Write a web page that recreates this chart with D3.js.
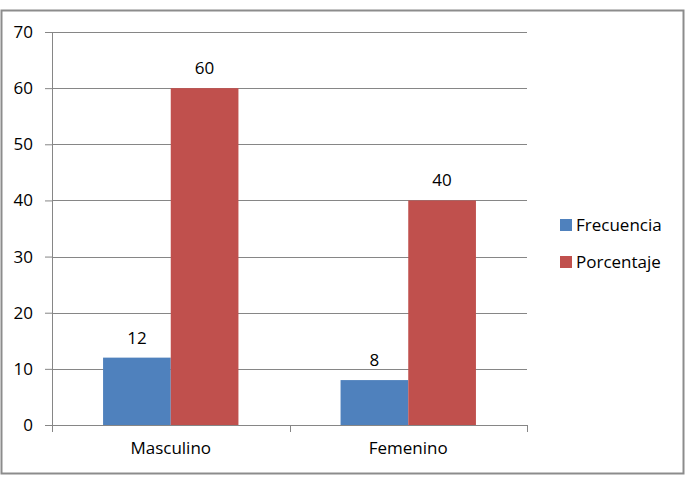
<!DOCTYPE html>
<html>
<head>
<meta charset="utf-8">
<script src="https://cdn.jsdelivr.net/npm/d3@7"></script>
<style>
body{margin:0;background:#fff;}
svg text{font-family:"Open Sans", sans-serif;fill:#000;}
</style>
</head>
<body>
<svg id="chart" width="688" height="480"></svg>
<script>
// data
const categories = ['Masculino', 'Femenino'];
const seriesNames = ['Frecuencia', 'Porcentaje'];
const frecuencia = [12, 8];
const porcentaje = [60, 40];
const yTicks = [0, 10, 20, 30, 40, 50, 60, 70];
const colors = ['#4F81BD', '#C0504D'];

const svg = d3.select('#chart');
const margin = {top: 32, left: 52, right: 161, bottom: 55};
const width = 688 - margin.left - margin.right;
const height = 480 - margin.top - margin.bottom;
const fs = '17px';

// outer frame
svg.append('rect')
	.attr('x', 1.5).attr('y', 10.5)
	.attr('width', 682).attr('height', 463)
	.attr('fill', '#fff')
	.attr('stroke', '#8c8c8c')
	.attr('stroke-width', 2);

const g = svg.append('g').attr('transform', 'translate(' + margin.left + ',' + margin.top + ')');

const x0 = d3.scaleBand().domain(categories).range([0, width]);
const x1 = d3.scaleBand().domain(seriesNames).range([0, x0.bandwidth() * 0.57]);
const y = d3.scaleLinear().domain([0, 70]).range([height, 0]);

// gridlines
g.append('g').selectAll('line')
	.data(yTicks.slice(1))
	.join('line')
	.attr('x1', 0).attr('x2', width)
	.attr('y1', d => Math.round(y(d)) + 0.5).attr('y2', d => Math.round(y(d)) + 0.5)
	.attr('stroke', '#868686');

const rows = categories.map((c, i) => ({cat: c, vals: [frecuencia[i], porcentaje[i]]}));
const off = (x0.bandwidth() - x1.range()[1]) / 2;

const grp = g.append('g').selectAll('g')
	.data(rows)
	.join('g')
	.attr('transform', d => 'translate(' + (x0(d.cat) + off) + ',0)');

grp.selectAll('rect')
	.data(d => d.vals.map((v, j) => ({s: seriesNames[j], v: v, j: j})))
	.join('rect')
	.attr('x', d => x1(d.s))
	.attr('y', d => y(d.v))
	.attr('width', x1.bandwidth())
	.attr('height', d => y(0) - y(d.v))
	.attr('fill', d => colors[d.j]);

grp.selectAll('text')
	.data(d => d.vals.map((v, j) => ({s: seriesNames[j], v: v})))
	.join('text')
	.attr('x', d => x1(d.s) + x1.bandwidth() / 2)
	.attr('y', d => y(d.v) - 14)
	.attr('text-anchor', 'middle')
	.style('font-size', fs)
	.text(d => d.v);

// y axis
const yAxis = g.append('g')
	.call(d3.axisLeft(y).tickValues(yTicks).tickSize(7).tickPadding(12));
yAxis.select('.domain').attr('stroke', '#868686').attr('d', 'M0.5,' + height + 'V0');
yAxis.selectAll('.tick line').attr('stroke', '#868686');
yAxis.selectAll('.tick text').style('font-size', fs).attr('fill', '#000');

// x axis
const xAxis = g.append('g')
	.attr('transform', 'translate(0,' + height + ')')
	.call(d3.axisBottom(x0).tickSize(0).tickPadding(17));
xAxis.select('.domain').attr('stroke', '#868686').attr('d', 'M0,0.5H' + width);
xAxis.selectAll('.tick text').style('font-size', fs).attr('fill', '#000');
xAxis.append('g').selectAll('line')
	.data([0, x0.bandwidth(), width])
	.join('line')
	.attr('x1', d => Math.round(d) + 0.5).attr('x2', d => Math.round(d) + 0.5)
	.attr('y1', 0).attr('y2', 7)
	.attr('stroke', '#868686');

// legend
const legend = svg.append('g').attr('transform', 'translate(560,219)');
const li = legend.selectAll('g')
	.data(seriesNames)
	.join('g')
	.attr('transform', (d, i) => 'translate(0,' + i * 37 + ')');
li.append('rect').attr('width', 12).attr('height', 12).attr('fill', (d, i) => colors[i]);
li.append('text').attr('x', 16).attr('y', 11.5).style('font-size', fs).text(d => d);
</script>
</body>
</html>
